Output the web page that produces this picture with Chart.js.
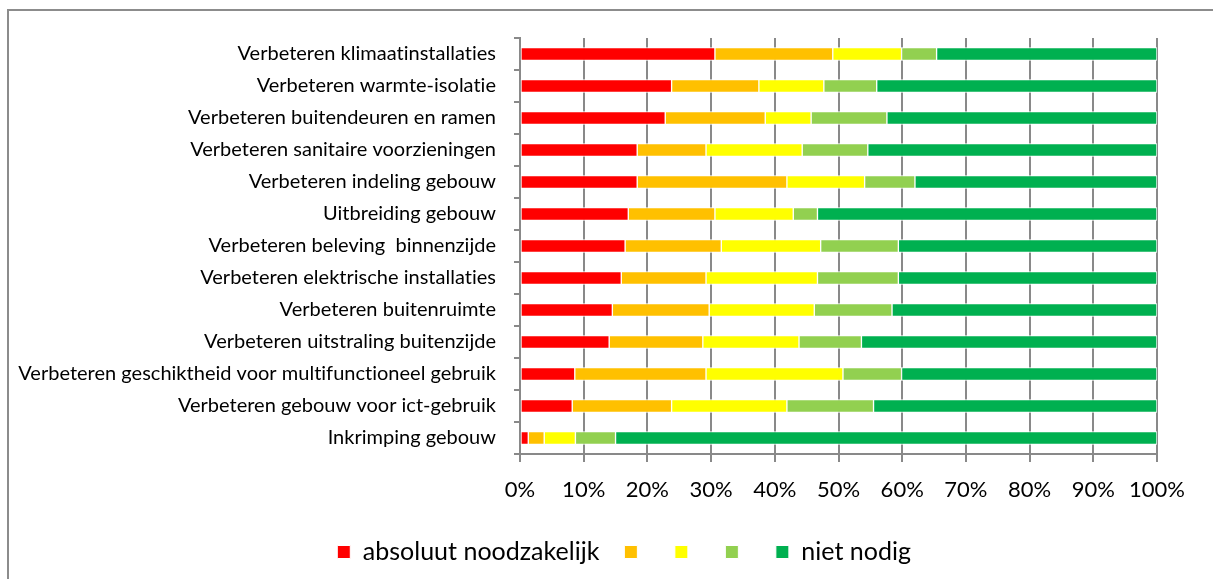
<!DOCTYPE html>
<html>
<head>
<meta charset="utf-8">
<script src="https://cdn.jsdelivr.net/npm/chart.js@4"></script>
<style>
  html, body { margin: 0; padding: 0; background: #fff; overflow: hidden; }
  #wrap { position: absolute; left: 0; top: 0; width: 1248px; height: 579px; }
</style>
</head>
<body>
<div id="wrap"><canvas id="barChart"></canvas></div>
<script>
// Renovation measures, share of answers per urgency level (%)
const categories = [
  'Verbeteren klimaatinstallaties',
  'Verbeteren warmte-isolatie',
  'Verbeteren buitendeuren en ramen',
  'Verbeteren sanitaire voorzieningen',
  'Verbeteren indeling gebouw',
  'Uitbreiding gebouw',
  'Verbeteren beleving  binnenzijde',
  'Verbeteren elektrische installaties',
  'Verbeteren buitenruimte',
  'Verbeteren uitstraling buitenzijde',
  'Verbeteren geschiktheid voor multifunctioneel gebruik',
  'Verbeteren gebouw voor ict-gebruik',
  'Inkrimping gebouw'
];

const absoluutNoodzakelijk = [30.6, 23.8, 22.8, 18.4, 18.4, 17.0, 16.5, 15.9, 14.5, 14.0, 8.6, 8.2, 1.3];
const niveau2 = [18.5, 13.7, 15.7, 10.8, 23.5, 13.6, 15.1, 13.3, 15.2, 14.7, 20.6, 15.6, 2.5];
const niveau3 = [10.8, 10.2, 7.2, 15.1, 12.2, 12.3, 15.6, 17.5, 16.5, 15.1, 21.5, 18.1, 4.9];
const niveau4 = [5.5, 8.3, 11.9, 10.3, 7.9, 3.8, 12.2, 12.7, 12.2, 9.8, 9.2, 13.6, 6.3];
const nietNodig = [34.6, 44.0, 42.4, 45.4, 38.0, 53.3, 40.6, 40.6, 41.6, 46.4, 40.1, 44.5, 85.0];

const seriesLabels = ['absoluut noodzakelijk', '', '', '', 'niet nodig'];
const xTicks = [0, 10, 20, 30, 40, 50, 60, 70, 80, 90, 100];

const colors = ['#ff0000', '#ffc000', '#ffff00', '#92d050', '#00b050'];
const axisGrey = '#898989';
const font = 'Lato';

// gray frame around the chart; tiny letter spacing keeps Lato from using its "ti" ligature
const framePlugin = {
  id: 'frame',
  afterLayout(chart) {
    // centre the legend on the whole frame, not on the padded layout box
    const lg = chart.legend;
    if (lg) {
      lg.left = 0;
      lg.right = chart.width;
      lg.width = chart.width;
    }
  },
  beforeDraw(chart) {
    const ctx = chart.ctx;
    ctx.letterSpacing = '0.01px';
    ctx.save();
    ctx.strokeStyle = '#8c8c8c';
    ctx.lineWidth = 2;
    ctx.strokeRect(8, 10, 2000, 2000);
    ctx.restore();
  }
};

const seriesData = [absoluutNoodzakelijk, niveau2, niveau3, niveau4, nietNodig];

const ctx = document.getElementById('barChart').getContext('2d');
new Chart(ctx, {
  type: 'bar',
  data: {
    labels: categories,
    datasets: seriesData.map((d, i) => ({
      label: seriesLabels[i],
      data: d,
      backgroundColor: colors[i],
      borderColor: '#ffffff',
      borderWidth: 1,
      borderSkipped: false,
      barThickness: 13
    }))
  },
  options: {
    indexAxis: 'y',
    responsive: true,
    maintainAspectRatio: false,
    animation: false,
    layout: { padding: { left: 0, top: 38, right: 1248 - 1157, bottom: 4.5 } },
    plugins: {
      tooltip: { enabled: false },
      legend: {
        position: 'bottom',
        labels: {
          color: '#000',
          font: { family: font, size: 25 },
          boxWidth: 13,
          boxHeight: 13,
          padding: 25
        }
      }
    },
    scales: {
      x: {
        stacked: true,
        min: 0,
        max: 100,
        afterBuildTicks: s => { s.ticks = xTicks.map(v => ({ value: v })); },
        afterFit: s => { s.height = 60.5; },
        ticks: {
          color: '#000',
          font: { family: font, size: 22 },
          padding: 15,
          maxRotation: 0,
          callback: v => v + '%'
        },
        grid: { color: axisGrey, lineWidth: 2, tickLength: 8, drawOnChartArea: true },
        border: { color: axisGrey, width: 2 }
      },
      y: {
        stacked: true,
        afterFit: s => { s.width = 520; },
        ticks: {
          color: '#000',
          font: { family: font, size: 20 },
          padding: 18,
          autoSkip: false
        },
        grid: { color: axisGrey, lineWidth: 2, tickLength: 6, drawOnChartArea: false, offset: true },
        border: { color: axisGrey, width: 2 }
      }
    }
  },
  plugins: [framePlugin]
});
</script>
</body>
</html>
